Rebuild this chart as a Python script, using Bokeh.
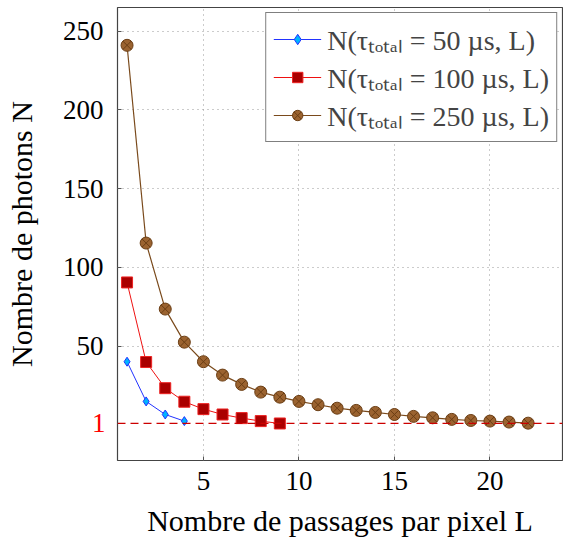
from bokeh.plotting import figure
from bokeh.models import (Span, Legend, LegendItem, FixedTicker, Range1d,
                          LinearAxis)
from bokeh.embed import file_html
from bokeh.resources import INLINE

# ---- data ----
L50 = [1, 2, 3, 4]
N50 = [40.2, 15.0, 6.7, 2.5]
L100 = [1, 2, 3, 4, 5, 6, 7, 8, 9]
N100 = [90.5, 40.0, 23.4, 14.8, 10.1, 6.7, 4.4, 2.5, 1.0]
L250 = list(range(1, 23))
N250 = [241.0, 115.5, 73.6, 52.6, 40.2, 31.7, 25.8, 20.9, 17.7, 15.0, 12.9,
        10.7, 9.3, 8.0, 6.7, 5.5, 4.6, 3.6, 2.9, 2.5, 1.9, 1.2]
labels = ["N(τₜₒₜₐₗ = 50 µs, L)", "N(τₜₒₜₐₗ = 100 µs, L)", "N(τₜₒₜₐₗ = 250 µs, L)"]
x_ticks = [5, 10, 15, 20]
y_ticks = [50, 100, 150, 200, 250]
threshold = 1
xlabel = "Nombre de passages par pixel L"
ylabel = "Nombre de photons N"

FONT = "Liberation Serif"

xr = Range1d(0.5, 23.8)
yr = Range1d(-22.5, 265)

p = figure(width=563, height=540, x_range=xr, y_range=yr,
           output_backend="svg", toolbar_location=None,
           min_border_left=117, min_border_right=1, min_border_top=7,
           min_border_bottom=80)
p.background_fill_color = "white"
p.outline_line_color = "#444444"
p.outline_line_width = 1.2


def style(ax):
    ax.axis_line_color = None
    ax.major_tick_in = 4
    ax.major_tick_out = 0
    ax.minor_tick_line_color = None
    ax.major_tick_line_color = "#555555"
    ax.major_label_text_font = FONT
    ax.major_label_text_font_size = "27px"
    ax.major_label_text_color = "black"
    ax.axis_label_text_font = FONT
    ax.axis_label_text_font_size = "30px"
    ax.axis_label_text_font_style = "normal"
    ax.axis_label_text_color = "black"


# x axis
xa = p.xaxis[0]
style(xa)
xa.ticker = FixedTicker(ticks=x_ticks)
xa.major_label_standoff = 11
xa.axis_label = xlabel
xa.axis_label_standoff = 11

# inner y axis: all tick marks, only the red threshold label
ya = p.yaxis[0]
style(ya)
ya.ticker = FixedTicker(ticks=[threshold] + y_ticks)
ya.major_label_overrides = {t: "" for t in y_ticks}
ya.major_label_text_color = "red"
ya.major_label_standoff = 12

# outer y axis: black labels, pulled back next to the frame
yb = LinearAxis(ticker=FixedTicker(ticks=y_ticks))
style(yb)
yb.major_tick_line_color = None
yb.major_tick_in = 0
yb.major_label_standoff = -15
yb.axis_label = ylabel
yb.axis_label_standoff = 22
p.add_layout(yb, "left")

p.grid.grid_line_color = "#999999"
p.grid.grid_line_dash = "1 4"
p.grid.grid_line_width = 1
p.ygrid.ticker = FixedTicker(ticks=y_ticks)

p.add_layout(Span(location=threshold, dimension="width", line_color="#cc0000",
                  line_dash="8 5", line_width=1.3))

l1 = p.line(L50, N50, line_color="#2233ff", line_width=1)
s1 = p.scatter(L50, N50, marker="diamond", size=9, fill_color="#00b4ff",
               line_color="#2233ff", line_width=1)
l2 = p.line(L100, N100, line_color="#ee1111", line_width=1)
s2 = p.scatter(L100, N100, marker="square", size=11, fill_color="#aa0000",
               line_color="#ee2222", line_width=1)
l3 = p.line(L250, N250, line_color="#7a4a1c", line_width=1.2)
s3 = p.scatter(L250, N250, marker="circle_x", size=12, fill_color="#9b6330",
               line_color="#6b3e14", line_width=1)

legend = Legend(items=[LegendItem(label=labels[0], renderers=[l1, s1]),
                       LegendItem(label=labels[1], renderers=[l2, s2]),
                       LegendItem(label=labels[2], renderers=[l3, s3])],
                location="top_right")
legend.label_text_font = FONT
legend.label_text_font_size = "28px"
legend.label_height = 26
legend.glyph_height = 26
legend.glyph_width = 48
legend.label_standoff = 6
legend.spacing = -9
legend.padding = 7
legend.margin = 5
legend.border_line_color = "black"
legend.border_line_width = 1.2
legend.background_fill_alpha = 1
p.add_layout(legend)

open("out.html", "w").write(file_html(p, INLINE))
